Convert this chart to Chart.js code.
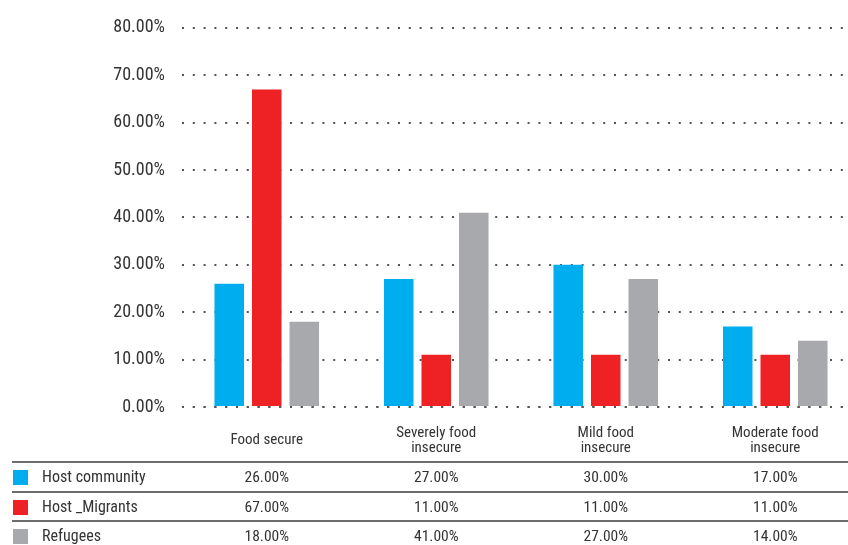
<!DOCTYPE html>
<html>
<head>
<meta charset="utf-8">
<script src="https://cdn.jsdelivr.net/npm/chart.js@4.4.1/dist/chart.umd.min.js"></script>
<style>
  html, body { margin: 0; padding: 0; background: #fff; overflow: hidden; }
  #wrap { position: relative; width: 872px; height: 545px; }
</style>
</head>
<body>
<div id="wrap"><canvas id="foodChart"></canvas></div>
<script>
const categories = ['Food secure', ['Severely food', 'insecure'], ['Mild food', 'insecure'], ['Moderate food', 'insecure']];
const seriesNames = ['Host community', 'Host _Migrants', 'Refugees'];
const hostCommunity = [26, 27, 30, 17];
const hostMigrants = [67, 11, 11, 11];
const refugees = [18, 41, 27, 14];
const yTickValues = [0, 10, 20, 30, 40, 50, 60, 70, 80];

const colors = ['#00aeef', '#ee2124', '#a7a9ac'];
const fontFamily = "'Liberation Sans Narrow', 'Roboto Condensed', 'DejaVu Sans Condensed', Roboto, sans-serif";
const dotDash = [2, 8.8];

function pct(v){
    return v.toFixed(2) + '%';
}

// zero line sits on top of the bars, the other grid lines behind them
const zeroLine = {
    id: 'zeroLine',
    afterDatasetsDraw(chart) {
        const {ctx, chartArea, scales} = chart;
        const y = Math.round(scales.y.getPixelForValue(0));
        ctx.save();
        ctx.strokeStyle = '#555';
        ctx.lineWidth = 2;
        ctx.setLineDash(dotDash);
        ctx.beginPath();
        ctx.moveTo(chartArea.left, y);
        ctx.lineTo(chartArea.right, y);
        ctx.stroke();
        ctx.restore();
    }
};

// data table under the axis
const dataTable = {
    id: 'dataTable',
    afterDraw(chart) {
        const {ctx, scales} = chart;
        const top = 462;
        const rowH = 29.6;
        ctx.save();
        chart.data.datasets.forEach((ds, i) => {
            const lineY = Math.round(top + i * rowH);
            ctx.strokeStyle = '#6d6d6d';
            ctx.lineWidth = 2;
            ctx.beginPath();
            ctx.moveTo(12, lineY);
            ctx.lineTo(chart.width, lineY);
            ctx.stroke();

            const textY = lineY + 16;
            ctx.fillStyle = ds.backgroundColor;
            ctx.fillRect(13, textY - 8, 15, 15);

            ctx.fillStyle = '#333';
            ctx.font = "16px " + fontFamily;
            ctx.textBaseline = 'middle';
            ctx.textAlign = 'left';
            ctx.fillText(ds.label, 42, textY);

            ctx.font = "15.5px " + fontFamily;
            ctx.textAlign = 'center';
            ds.data.forEach((v, j) => {
                ctx.fillText(pct(v), scales.x.getPixelForValue(j), textY);
            });
        });
        ctx.restore();
    }
};

new Chart(document.getElementById('foodChart'), {
    type: 'bar',
    data: {
        labels: categories,
        datasets: [
            {label: seriesNames[0], data: hostCommunity, backgroundColor: colors[0]},
            {label: seriesNames[1], data: hostMigrants, backgroundColor: colors[1]},
            {label: seriesNames[2], data: refugees, backgroundColor: colors[2]}
        ]
    },
    options: {
        responsive: true,
        maintainAspectRatio: false,
        animation: false,
        categoryPercentage: 0.664,
        barPercentage: 0.787,
        layout: {padding: {top: 25, right: 12, bottom: 64, left: 0}},
        plugins: {
            legend: {display: false},
            tooltip: {enabled: false}
        },
        scales: {
            x: {
                grid: {display: false},
                border: {display: false},
                ticks: {
                    color: '#333',
                    padding: 18,
                    crossAlign: 'center',
                    maxRotation: 0,
                    autoSkip: false,
                    font: {family: fontFamily, size: 15, lineHeight: 1.0}
                }
            },
            y: {
                min: 0,
                max: 80,
                afterFit: scale => { scale.width = 182; },
                afterBuildTicks: scale => { scale.ticks = yTickValues.map(v => ({value: v})); },
                border: {display: false, dash: dotDash},
                grid: {
                    color: '#555',
                    lineWidth: 2,
                    drawTicks: false
                },
                ticks: {
                    color: '#333',
                    padding: 17,
                    font: {family: fontFamily, size: 18},
                    callback: v => pct(v)
                }
            }
        }
    },
    plugins: [zeroLine, dataTable]
});
</script>
</body>
</html>
